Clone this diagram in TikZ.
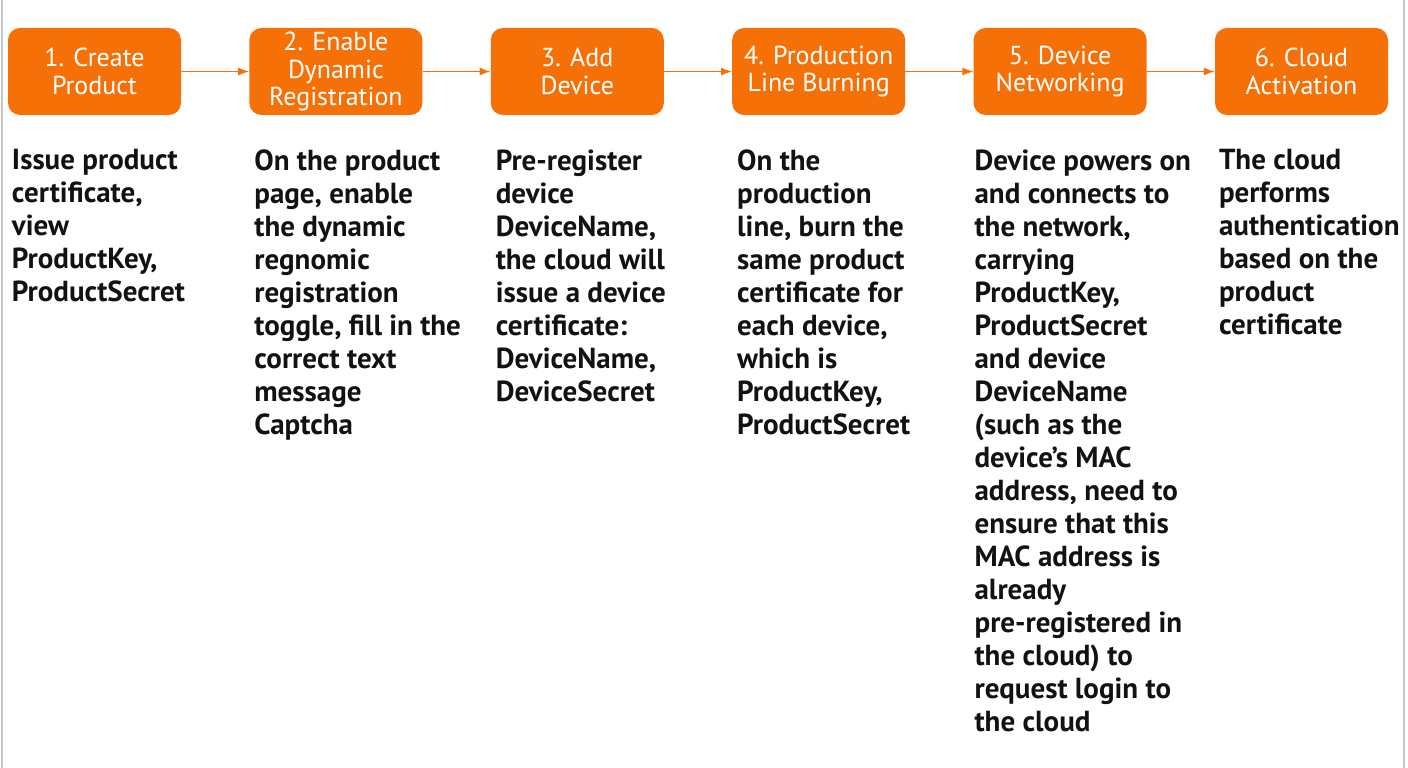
\documentclass[tikz,border=0pt]{standalone}
\usepackage{fontspec}
\setmainfont{PT Sans}
\usetikzlibrary{positioning,arrows.meta}
\definecolor{flow}{RGB}{246,112,8}
\definecolor{edge}{RGB}{200,200,200}
\tikzset{
	stepbox/.style={draw=none,fill=flow,rounded corners=12pt,minimum width=173pt,minimum height=87pt,
		inner sep=2pt,align=center,text=white,font=\fontsize{26}{27.5}\selectfont},
	desc/.style={inner sep=0pt,align=left,text=black!93,font=\bfseries\fontsize{29}{33}\selectfont},
	link/.style={->,draw=flow,line width=1.4pt}
}
\begin{document}
\begin{tikzpicture}[x=1pt,y=1pt,>={Latex[length=11pt,width=8pt]}]
	\useasboundingbox (0,0) rectangle (1408,-768);
	% draw the thin grey borders
	\draw[edge,line width=2pt] (2,0) -- (2,-768);
	\draw[edge,line width=1.5pt] (1404,0) -- (1404,-768);

	% draw the steps
	\node[stepbox] (s1) at (94.5,-71.5) {1. Create\\Product};
	\node[stepbox,right=68pt of s1] (s2) {2. Enable\\Dynamic\\Registration};
	\node[stepbox,right=68pt of s2] (s3) {3. Add\\Device};
	\node[stepbox,right=68pt of s3] (s4) {4. Production\\Line Burning};
	\node[stepbox,right=68pt of s4] (s5) {5. Device\\Networking};
	\node[stepbox,right=68pt of s5] (s6) {6. Cloud\\Activation};

	\foreach \a/\b in {s1/s2,s2/s3,s3/s4,s4/s5,s5/s6} {
		% arrow from step to step
		\draw[link] (\a) -- (\b);
	}

	% draw the descriptions
	\node[desc,below right=34pt and 4pt of s1.south west] (d1)
		{Issue product\\certificate,\\view\\ProductKey,\\ProductSecret};
	\node[desc,below right=34pt and 5pt of s2.south west] (d2)
		{On the product\\page, enable\\the dynamic\\regnomic\\registration\\toggle, fill in the\\correct text\\message\\Captcha};
	\node[desc,below right=34pt and 5pt of s3.south west] (d3)
		{Pre-register\\device\\DeviceName,\\the cloud will\\issue a device\\certificate:\\DeviceName,\\DeviceSecret};
	\node[desc,below right=34pt and 5pt of s4.south west] (d4)
		{On the\\production\\line, burn the\\same product\\certificate for\\each device,\\which is\\ProductKey,\\ProductSecret};
	\node[desc,below right=34pt and 1pt of s5.south west] (d5)
		{Device powers on\\and connects to\\the network,\\carrying\\ProductKey,\\ProductSecret\\and device\\DeviceName\\(such as the\\device’s MAC\\address, need to\\ensure that this\\MAC address is\\already\\pre-registered in\\the cloud) to\\request login to\\the cloud};
	\node[desc,below right=34pt and 4pt of s6.south west] (d6)
		{The cloud\\performs\\authentication\\based on the\\product\\certificate};
\end{tikzpicture}
\end{document}
